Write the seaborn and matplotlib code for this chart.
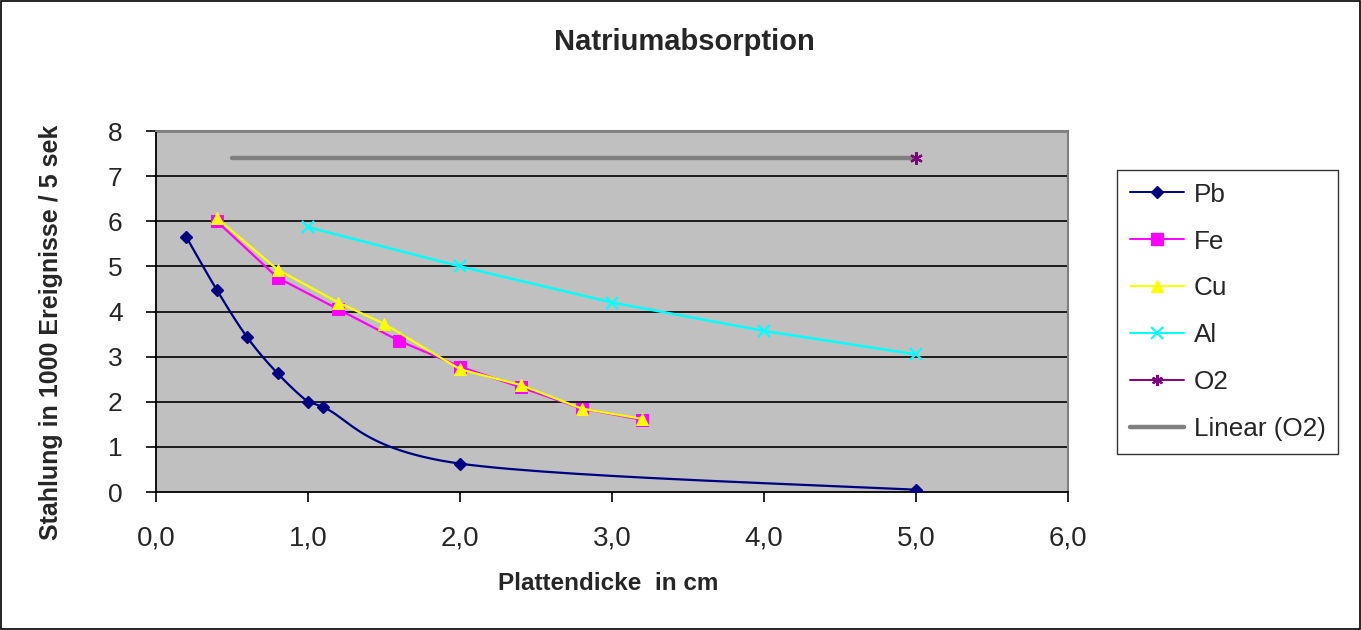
import numpy as np
import pandas as pd
import matplotlib
matplotlib.use("Agg")
import matplotlib.pyplot as plt
from matplotlib.lines import Line2D
from matplotlib.patches import Rectangle
import seaborn as sns

# Measured counts per plate thickness
pb_x = [0.2, 0.4, 0.6, 0.8, 1.0, 1.1, 2.0, 5.0]
pb_y = [5.65, 4.48, 3.43, 2.63, 2.0, 1.88, 0.63, 0.05]
fe_x = [0.4, 0.8, 1.2, 1.6, 2.0, 2.4, 2.8, 3.2]
fe_y = [6.0, 4.75, 4.05, 3.35, 2.78, 2.32, 1.85, 1.6]
cu_x = [0.4, 0.8, 1.2, 1.5, 2.0, 2.4, 2.8, 3.2]
cu_y = [6.07, 4.93, 4.2, 3.73, 2.72, 2.37, 1.85, 1.62]
al_x = [1.0, 2.0, 3.0, 4.0, 5.0]
al_y = [5.87, 5.0, 4.2, 3.57, 3.05]
o2_x = [5.0]
o2_y = [7.4]
trend_x = [0.5, 5.0]

x_ticks = [0, 1, 2, 3, 4, 5, 6]
x_tick_labels = ["0,0", "1,0", "2,0", "3,0", "4,0", "5,0", "6,0"]
y_ticks = [0, 1, 2, 3, 4, 5, 6, 7, 8]

sns.set_theme(style="white")
plt.rcParams["font.family"] = ["Liberation Sans", "DejaVu Sans"]


def smooth_curve(xs, ys, n=30):
    """Catmull-Rom style smoothing through the given points."""
    pts = np.column_stack([xs, ys]).astype(float)
    ext = np.vstack([pts[0], pts, pts[-1]])
    out = []
    for i in range(1, len(ext) - 2):
        p0, p1, p2, p3 = ext[i - 1], ext[i], ext[i + 1], ext[i + 2]
        c1 = p1 + (p2 - p0) / 6.0
        c2 = p2 - (p3 - p1) / 6.0
        t = np.linspace(0, 1, n)[:, None]
        seg = ((1 - t) ** 3) * p1 + 3 * ((1 - t) ** 2) * t * c1 + 3 * (1 - t) * t ** 2 * c2 + t ** 3 * p2
        out.append(seg if i == 1 else seg[1:])
    arr = np.vstack(out)
    return arr[:, 0], arr[:, 1]


fig = plt.figure(figsize=(13.61, 6.30), dpi=100)
fig.patch.set_facecolor("white")
fig.add_artist(Rectangle((0.0008, 0.0015), 0.9984, 0.997, transform=fig.transFigure,
                         fill=False, edgecolor="black", linewidth=1.2))

ax = fig.add_axes([0.1146, 0.219, 0.6701, 0.573])
ax.set_facecolor("#C0C0C0")

for yv in y_ticks[1:-1]:
    ax.axhline(yv, color="black", linewidth=1.2, zorder=1)
ax.axhline(8, color="#808080", linewidth=2, zorder=1)

navy = "#000080"
magenta = "#FF00FF"
yellow = "#FFFF00"
cyan = "#00FFFF"
purple = "#800080"
gray = "#808080"

# Trend line of the O2 reading
trend_y = [float(np.mean(o2_y))] * len(trend_x)
sns.lineplot(x=trend_x, y=trend_y, ax=ax, color=gray, linewidth=3.2,
             solid_capstyle="round", zorder=2, legend=False)

# Pb: smoothed curve plus markers
sx, sy = smooth_curve(pb_x, pb_y)
sns.lineplot(x=sx, y=sy, ax=ax, color=navy, linewidth=1.6, sort=False,
             estimator=None, zorder=3, legend=False)
ax.plot(pb_x, pb_y, linestyle="none", marker="D", markersize=6.5, color=navy, zorder=4)

df_fe = pd.DataFrame({"x": fe_x, "y": fe_y})
sns.lineplot(data=df_fe, x="x", y="y", ax=ax, color=magenta, linewidth=1.6,
             marker="s", markersize=9, markeredgecolor=magenta, sort=False,
             estimator=None, zorder=3, legend=False)
df_cu = pd.DataFrame({"x": cu_x, "y": cu_y})
sns.lineplot(data=df_cu, x="x", y="y", ax=ax, color=yellow, linewidth=1.6,
             marker="^", markersize=9, markeredgecolor=yellow, sort=False,
             estimator=None, zorder=4, legend=False)
df_al = pd.DataFrame({"x": al_x, "y": al_y})
sns.lineplot(data=df_al, x="x", y="y", ax=ax, color=cyan, linewidth=1.8,
             marker="x", markersize=9, markeredgewidth=1.6, markeredgecolor=cyan,
             sort=False, estimator=None, zorder=3, legend=False)
ax.plot(o2_x, o2_y, linestyle="none", marker=(6, 2, 0), markersize=9,
        markeredgewidth=1.6, color=purple, zorder=5)

ax.set_xlim(0, 6)
ax.set_ylim(0, 8)
ax.set_xticks(x_ticks)
ax.set_xticklabels(x_tick_labels)
ax.set_yticks(y_ticks)
ax.tick_params(axis="both", which="major", direction="out",
               length=7, width=1.2, color="black", bottom=True, left=True)
ax.tick_params(axis="x", labelsize=20, pad=17)
ax.tick_params(axis="y", labelsize=19, pad=17)
ax.grid(False)
for side in ["left", "bottom"]:
    ax.spines[side].set_color("black")
    ax.spines[side].set_linewidth(1.3)
ax.spines["top"].set_color("#808080")
ax.spines["top"].set_linewidth(1.5)
ax.spines["right"].set_color("#808080")
ax.spines["right"].set_linewidth(1.5)

ax.set_xlabel("Plattendicke  in cm", fontsize=17.5, fontweight="bold")
ax.xaxis.label.set(va="center", ha="center")
ax.xaxis.set_label_coords((608.5 - 156) / 912, (492 - 583) / 361)
ax.set_ylabel("Stahlung in 1000 Ereignisse / 5 sek", fontsize=18, fontweight="bold")
ax.yaxis.label.set(va="center", ha="center", rotation_mode="default")
ax.yaxis.set_label_coords((51 - 156) / 912, (492 - 332) / 361)
fig.text(684 / 1361, 1 - 42 / 630, "Natriumabsorption", ha="center", va="center",
         fontsize=21, fontweight="bold")

handles = [
    Line2D([], [], color=navy, marker="D", markersize=6, linewidth=1.4, label="Pb"),
    Line2D([], [], color=magenta, marker="s", markersize=8, linewidth=1.4, label="Fe"),
    Line2D([], [], color=yellow, marker="^", markersize=8, linewidth=1.4, label="Cu"),
    Line2D([], [], color=cyan, marker="x", markersize=8, markeredgewidth=1.5, linewidth=1.4, label="Al"),
    Line2D([], [], color=purple, marker=(6, 2, 0), markersize=8, markeredgewidth=1.5, linewidth=1.4, label="O2"),
    Line2D([], [], color=gray, linewidth=3.2, solid_capstyle="round", label="Linear (O2)"),
]
leg = fig.legend(handles=handles, loc="upper left", bbox_to_anchor=(1117 / 1361, 1 - 170 / 630),
                 fontsize=18.8, frameon=True, fancybox=False, edgecolor="black",
                 handlelength=2.1, handletextpad=0.35, labelspacing=0.88,
                 borderpad=0.48, borderaxespad=0)
leg.get_frame().set_linewidth(1.0)

fig.savefig("out.png", dpi=100, facecolor="white")
